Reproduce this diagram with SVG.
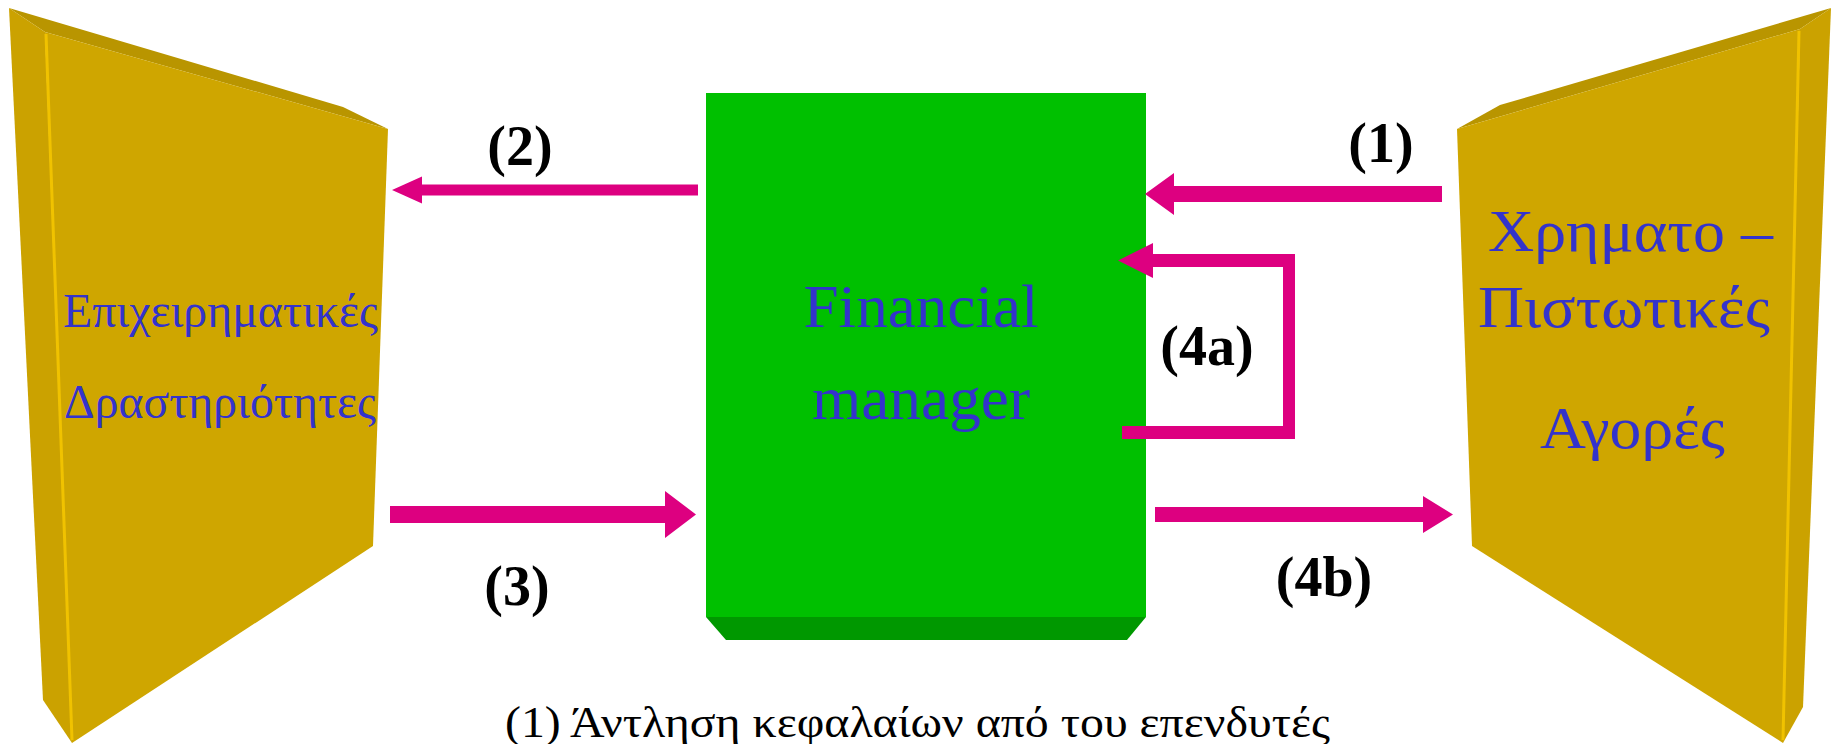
<svg xmlns="http://www.w3.org/2000/svg" width="1831" height="744" viewBox="0 0 1831 744">
  <style>
    .face { fill: #CFA600; }
    .bevel { fill: #B99500; }
    .strip { fill: #CBA200; }
    .edge { stroke: #F0C200; stroke-width: 3; fill: none; }
    .box { fill: #00C000; }
    .box-base { fill: #009800; }
    .node-text { font-family: "Liberation Serif", "Times New Roman", serif; fill: #3333CC; }
    .label { font-family: "Liberation Serif", "Times New Roman", serif; font-weight: bold; font-size: 56px; fill: #000000; text-anchor: middle; }
    .flow { fill: #DD0080; }
    .caption { font-family: "Liberation Serif", "Times New Roman", serif; font-size: 44px; fill: #000000; }
  </style>

  <rect width="1831" height="744" fill="#FFFFFF"/>

  <!-- Left slab: business activities -->
  <g id="business-activities">
    <polygon class="bevel" points="9,8 343,107 388,129 45,32"/>
    <polygon class="strip" points="9,8 45,32 72,743 43,700"/>
    <polygon class="face" points="45,32 388,129 373,546 72,743"/>
    <line class="edge" x1="46" y1="34" x2="72" y2="740"/>
    <text class="node-text" font-size="48" x="63" y="327" textLength="315" lengthAdjust="spacingAndGlyphs">Επιχειρηματικές</text>
    <text class="node-text" font-size="48" x="64" y="418" textLength="312" lengthAdjust="spacingAndGlyphs">Δραστηριότητες</text>
  </g>

  <!-- Right slab: financial / credit markets -->
  <g id="financial-markets">
    <polygon class="bevel" points="1457,129 1500,105 1831,8 1800,29"/>
    <polygon class="strip" points="1800,29 1831,8 1803,707 1783,743"/>
    <polygon class="face" points="1457,129 1800,29 1783,743 1472,546"/>
    <line class="edge" x1="1799" y1="31" x2="1783" y2="740"/>
    <text class="node-text" font-size="60" x="1488" y="251" textLength="285" lengthAdjust="spacingAndGlyphs">Χρηματο –</text>
    <text class="node-text" font-size="60" x="1478" y="327" textLength="292" lengthAdjust="spacingAndGlyphs">Πιστωτικές</text>
    <text class="node-text" font-size="60" x="1540" y="448" textLength="185" lengthAdjust="spacingAndGlyphs">Αγορές</text>
  </g>

  <!-- Centre block: financial manager -->
  <g id="financial-manager">
    <polygon class="box-base" points="706,617 726,640 1127,640 1146,617"/>
    <rect class="box" x="706" y="93" width="440" height="524"/>
    <text class="node-text" font-size="62" x="921" y="327" text-anchor="middle" textLength="235" lengthAdjust="spacingAndGlyphs">Financial</text>
    <text class="node-text" font-size="62" x="921" y="419" text-anchor="middle" textLength="218" lengthAdjust="spacingAndGlyphs">manager</text>
  </g>

  <!-- Flows between the blocks -->
  <g id="connectors">
    <!-- (1) markets to manager -->
    <path class="flow" d="M1145,194 L1174,173 L1174,186 L1442,186 L1442,202 L1174,202 L1174,215 Z"/>
    <!-- (2) manager to business -->
    <path class="flow" d="M392,190 L422,176.5 L422,184.5 L698,184.5 L698,195.5 L422,195.5 L422,203.5 Z"/>
    <!-- (3) business to manager -->
    <path class="flow" d="M696,514.5 L665,491 L665,506 L390,506 L390,523 L665,523 L665,538 Z"/>
    <!-- (4a) loop back into manager -->
    <path class="flow" d="M1118,260.5 L1153,243 L1153,254 L1295,254 L1295,439 L1122,439 L1122,426 L1283,426 L1283,267 L1153,267 L1153,278 Z"/>
    <!-- (4b) manager to markets -->
    <path class="flow" d="M1453,514.5 L1423,496 L1423,507 L1155,507 L1155,522 L1423,522 L1423,533 Z"/>
  </g>

  <g id="flow-labels">
    <text class="label" x="1381" y="162">(1)</text>
    <text class="label" x="520" y="165">(2)</text>
    <text class="label" x="517" y="605">(3)</text>
    <text class="label" x="1207" y="365">(4a)</text>
    <text class="label" x="1324" y="596">(4b)</text>
  </g>

  <text class="caption" x="505" y="737" textLength="825" lengthAdjust="spacingAndGlyphs">(1) Άντληση κεφαλαίων από του επενδυτές</text>
</svg>
